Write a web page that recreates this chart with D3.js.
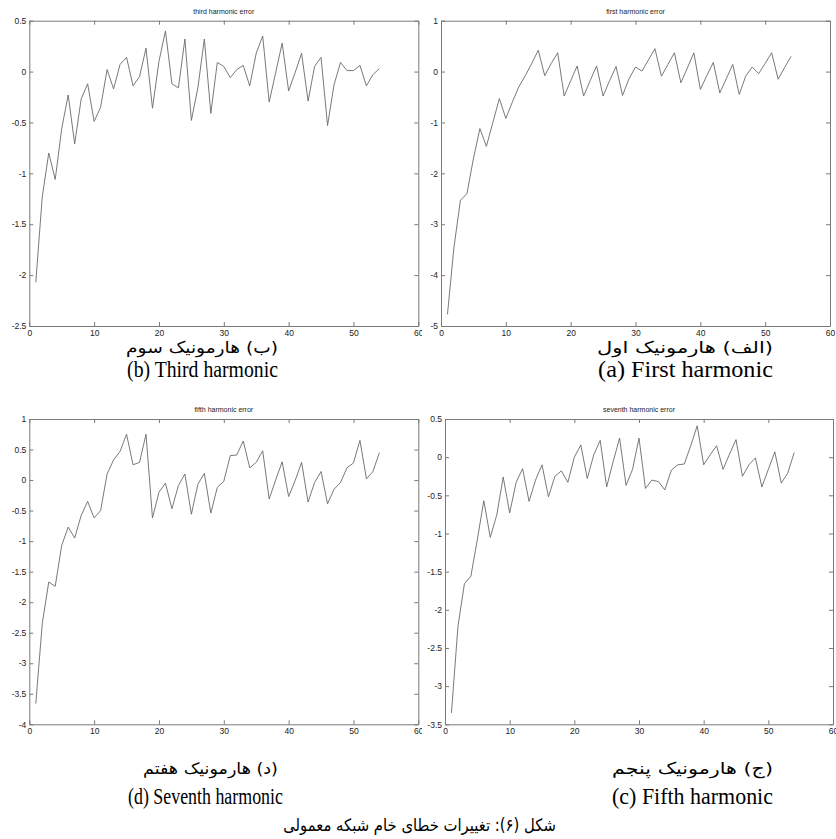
<!DOCTYPE html>
<html>
<head>
<meta charset="utf-8">
<script src="https://cdn.jsdelivr.net/npm/d3@7/dist/d3.min.js"></script>
<style>
  body { margin: 0; background: #fff; }
  svg { display: block; }
</style>
</head>
<body>
<svg id="fig" width="836" height="839"></svg>
<script>
// Network error per training iteration (1..54) for each harmonic
const thirdErr = [-2.07, -1.23, -0.80, -1.06, -0.56, -0.23, -0.71, -0.27, -0.12, -0.49,
  -0.35, 0.02, -0.17, 0.07, 0.14, -0.14, -0.05, 0.23, -0.36, 0.10,
  0.40, -0.12, -0.16, 0.32, -0.48, -0.16, 0.32, -0.41, 0.09, 0.05,
  -0.06, 0.02, 0.06, -0.14, 0.18, 0.35, -0.30, -0.01, 0.28, -0.19,
  -0.01, 0.18, -0.29, 0.05, 0.14, -0.53, -0.13, 0.09, 0.01, 0.01,
  0.06, -0.14, -0.03, 0.03];

const firstErr = [-4.77, -3.45, -2.53, -2.40, -1.71, -1.12, -1.47, -1.00, -0.53, -0.92,
  -0.60, -0.30, -0.08, 0.16, 0.42, -0.08, 0.16, 0.37, -0.48, -0.18,
  0.11, -0.48, -0.18, 0.11, -0.48, -0.18, 0.10, -0.47, -0.14, 0.09,
  0.01, 0.23, 0.45, -0.09, 0.14, 0.37, -0.22, 0.07, 0.37, -0.35,
  -0.08, 0.18, -0.42, -0.14, 0.14, -0.45, -0.09, 0.09, -0.04, 0.16,
  0.37, -0.15, 0.08, 0.30];

const fifthErr = [-3.66, -2.35, -1.67, -1.74, -1.07, -0.77, -0.95, -0.58, -0.35, -0.62,
  -0.50, 0.10, 0.33, 0.47, 0.75, 0.25, 0.29, 0.75, -0.62, -0.20,
  -0.05, -0.47, -0.09, 0.10, -0.56, -0.07, 0.11, -0.54, -0.12, -0.02,
  0.40, 0.41, 0.64, 0.20, 0.29, 0.48, -0.31, 0.00, 0.30, -0.27,
  -0.01, 0.29, -0.36, -0.04, 0.14, -0.39, -0.15, -0.04, 0.20, 0.28,
  0.65, 0.02, 0.14, 0.45];

const seventhErr = [-3.35, -2.22, -1.66, -1.56, -1.08, -0.57, -1.05, -0.76, -0.26, -0.73,
  -0.33, -0.15, -0.58, -0.30, -0.10, -0.52, -0.25, -0.18, -0.33, 0.00,
  0.16, -0.28, 0.03, 0.22, -0.39, -0.06, 0.25, -0.37, -0.16, 0.25,
  -0.41, -0.30, -0.32, -0.43, -0.17, -0.10, -0.09, 0.15, 0.41, -0.10,
  0.03, 0.15, -0.16, 0.04, 0.23, -0.25, -0.10, -0.01, -0.39, -0.16,
  0.07, -0.34, -0.21, 0.06];

// Tick labels
const xTicks = [0, 10, 20, 30, 40, 50, 60];
const yTicksThird = [-2.5, -2, -1.5, -1, -0.5, 0, 0.5];
const yTicksFirst = [-5, -4, -3, -2, -1, 0, 1];
const yTicksFifth = [-4, -3.5, -3, -2.5, -2, -1.5, -1, -0.5, 0, 0.5, 1];
const yTicksSeventh = [-3.5, -3, -2.5, -2, -1.5, -1, -0.5, 0, 0.5];

// Plot titles and captions
const plotTitles = ["third harmonic error", "first harmonic error", "fifth harmonic error", "seventh harmonic error"];
const faCaptions = ["(ب) هارمونیک سوم", "(الف) هارمونیک اول", "(د) هارمونیک هفتم", "(ج) هارمونیک پنجم"];
const enCaptions = ["(b) Third harmonic", "(a) First harmonic", "(d) Seventh harmonic", "(c) Fifth harmonic"];
const figureCaption = "شکل (۶): تغییرات خطای خام شبکه معمولی";

const seriesList = [thirdErr, firstErr, fifthErr, seventhErr];
const yTickList = [yTicksThird, yTicksFirst, yTicksFifth, yTicksSeventh];

// Layout of the four sub-plots (pixel boxes)
const boxes = [
  { x0: 29.3, x1: 418.3, y0: 20.7, y1: 326 },
  { x0: 441, x1: 830, y0: 20.7, y1: 326 },
  { x0: 29.3, x1: 418.3, y0: 419, y1: 724.3 },
  { x0: 445, x1: 833, y0: 419, y1: 724.3 }
];
// Caption blocks: horizontal span [left, right] and baseline of each line
const capPos = [
  { fa: [126, 278, 353], en: [127, 278, 377] },
  { fa: [597, 773, 353], en: [598, 773, 377] },
  { fa: [143, 278, 774], en: [128, 283, 804] },
  { fa: [612, 773, 774], en: [612, 773, 804] }
];

const svg = d3.select("#fig");
const axisColor = "#7a7a7a";
const tickFmt = d => String(+d.toFixed(2));

// place a text so it spans [left, right] horizontally
function fitText(sel, span) {
  const w = sel.node().getComputedTextLength();
  const sx = (span[1] - span[0]) / w;
  sel.attr("transform", `translate(${(span[0] + span[1]) / 2},${span[2]}) scale(${sx},1)`);
}

seriesList.forEach((vals, i) => {
  const b = boxes[i];
  const yT = yTickList[i];
  const g = svg.append("g");

  // right-hand sub-figures sit on their own white canvas
  if (i % 2 === 1) {
    g.append("rect").attr("x", 422).attr("y", b.y0 - 20).attr("width", 420).attr("height", b.y1 - b.y0 + 40).attr("fill", "#fff");
  }

  const x = d3.scaleLinear().domain([0, 60]).range([b.x0, b.x1]);
  const y = d3.scaleLinear().domain([yT[0], yT[yT.length - 1]]).range([b.y1, b.y0]);

  const styleAxis = sel => {
    sel.select(".domain").attr("stroke", axisColor).attr("stroke-width", 1);
    sel.selectAll(".tick line").attr("stroke", axisColor).attr("stroke-width", 1);
    sel.selectAll(".tick text").attr("fill", "#222").attr("font-family", "Liberation Sans, Arial, sans-serif").attr("font-size", 8.5);
  };

  g.append("g").attr("transform", `translate(0,${b.y1})`)
    .call(d3.axisBottom(x).tickValues(xTicks).tickFormat(tickFmt).tickSizeInner(-4).tickSizeOuter(0).tickPadding(4))
    .call(styleAxis);
  g.append("g").attr("transform", `translate(0,${b.y0})`)
    .call(d3.axisTop(x).tickValues(xTicks).tickFormat("").tickSizeInner(-4).tickSizeOuter(0))
    .call(styleAxis);
  g.append("g").attr("transform", `translate(${b.x0},0)`)
    .call(d3.axisLeft(y).tickValues(yT).tickFormat(tickFmt).tickSizeInner(-4).tickSizeOuter(0).tickPadding(3))
    .call(styleAxis);
  g.append("g").attr("transform", `translate(${b.x1},0)`)
    .call(d3.axisRight(y).tickValues(yT).tickFormat("").tickSizeInner(-4).tickSizeOuter(0))
    .call(styleAxis);

  // error curve
  const line = d3.line().x((d, k) => x(k + 1)).y(d => y(d));
  g.append("path").datum(vals)
    .attr("d", line)
    .attr("fill", "none")
    .attr("stroke", "#6a6a6a")
    .attr("stroke-width", 0.9)
    .attr("stroke-linejoin", "miter");

  // small plot title
  g.append("text")
    .attr("x", (b.x0 + b.x1) / 2).attr("y", b.y0 - 7)
    .attr("text-anchor", "middle")
    .attr("font-family", "Liberation Sans, Arial, sans-serif")
    .attr("font-size", 7).attr("fill", "#222")
    .text(plotTitles[i]);

  // Persian and English sub-captions
  const c = capPos[i];
  const fa = svg.append("text")
    .attr("text-anchor", "middle")
    .style("direction", "rtl")
    .attr("font-family", "DejaVu Sans, sans-serif")
    .attr("font-size", 16).attr("fill", "#000")
    .text(faCaptions[i]);
  fitText(fa, c.fa);
  const en = svg.append("text")
    .attr("text-anchor", "middle")
    .attr("font-family", "Liberation Serif, Times New Roman, serif")
    .attr("font-size", 23).attr("fill", "#000")
    .text(enCaptions[i]);
  fitText(en, c.en);
});

const cap = svg.append("text")
  .attr("text-anchor", "middle")
  .style("direction", "rtl")
  .attr("font-family", "DejaVu Sans, sans-serif")
  .attr("font-size", 17).attr("fill", "#000")
  .text(figureCaption);
fitText(cap, [283, 556, 831]);
</script>
</body>
</html>
